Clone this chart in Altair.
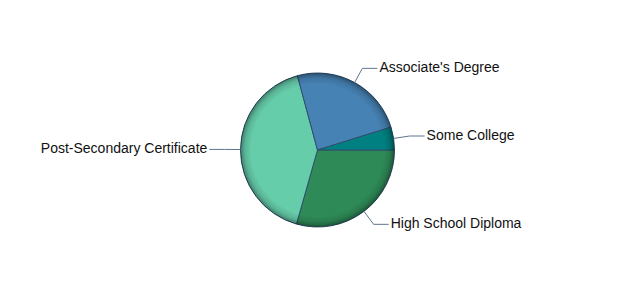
import math

import altair as alt
import pandas as pd

# Education level shares (percent), listed clockwise starting at 3 o'clock
categories = ["High School Diploma", "Post-Secondary Certificate", "Associate's Degree", "Some College"]
shares = [29.4, 41.4, 24.4, 4.8]
colors = ["#2E8B57", "#66CDAA", "#4682B4", "#008080"]

W, H = 635, 300
R = 77  # pie radius in px

slices = pd.DataFrame({"category": categories, "share": shares, "order": list(range(len(categories)))})

# Leader lines: from slice edge out along the mid-angle, then a short horizontal run
total = sum(shares)
line_rows, text_rows = [], []
cum = 0.0
for cat, v in zip(categories, shares):
    mid = (cum + v / 2) / total
    cum += v
    phi = math.pi / 2 + 2 * math.pi * mid  # vega angle: 0 at top, clockwise
    ux, uy = math.sin(phi), math.cos(phi)
    side = 1 if ux >= 0 else -1
    ex, ey = 1.21 * R * ux, 1.21 * R * uy
    pts = [(R * ux, R * uy), (ex, ey), (ex + side * 15, ey)]
    for i, (px, py) in enumerate(pts):
        line_rows.append({"category": cat, "i": i, "x": px, "y": py})
    text_rows.append({"category": cat, "x": ex + side * 17, "y": ey, "side": "right" if side > 0 else "left"})

lines = pd.DataFrame(line_rows)
labels = pd.DataFrame(text_rows)

xs = alt.Scale(domain=[-W / 2, W / 2])
ys = alt.Scale(domain=[-H / 2, H / 2])

pie = alt.Chart(slices).mark_arc(radius=R, stroke="#2f4f6f", strokeWidth=1).encode(
    theta=alt.Theta("share:Q", stack=True, scale=alt.Scale(range=[math.pi / 2, math.pi / 2 + 2 * math.pi])),
    order=alt.Order("order:Q"),
    color=alt.Color("category:N", scale=alt.Scale(domain=categories, range=colors), legend=None),
)

# Darkened rim for a rounded look
rim_fill = alt.RadialGradient(
    gradient="radial",
    x1=0.5, y1=0.5, r1=0,
    x2=0.5, y2=0.5, r2=0.5,
    stops=[
        alt.GradientStop(offset=0, color="rgba(0,0,0,0)"),
        alt.GradientStop(offset=0.86, color="rgba(0,0,0,0)"),
        alt.GradientStop(offset=0.94, color="rgba(0,0,0,0.12)"),
        alt.GradientStop(offset=1, color="rgba(0,0,0,0.38)"),
    ],
)
rim = alt.Chart(pd.DataFrame({"k": [0]})).mark_arc(
    theta=0, theta2=2 * math.pi, radius=R, fill=rim_fill
).encode(opacity=alt.value(1))

leaders = alt.Chart(lines).mark_line(color="#5f7490", strokeWidth=1).encode(
    x=alt.X("x:Q", scale=xs, axis=None),
    y=alt.Y("y:Q", scale=ys, axis=None),
    detail="category:N",
    order="i:Q",
)

text_common = dict(font="Liberation Sans", fontSize=14, color="#111111", baseline="middle")
text_right = alt.Chart(labels).transform_filter(alt.datum.side == "right").mark_text(
    align="left", **text_common
).encode(x=alt.X("x:Q", scale=xs, axis=None), y=alt.Y("y:Q", scale=ys, axis=None), text="category:N")
text_left = alt.Chart(labels).transform_filter(alt.datum.side == "left").mark_text(
    align="right", **text_common
).encode(x=alt.X("x:Q", scale=xs, axis=None), y=alt.Y("y:Q", scale=ys, axis=None), text="category:N")

chart = (
    alt.layer(pie, rim, leaders, text_right, text_left)
    .properties(width=W, height=H, autosize=alt.AutoSizeParams(type="none"), padding=0, background="white")
    .configure_view(stroke=None)
)

chart.save("out.html", embed_options={"renderer": "svg", "actions": False})
